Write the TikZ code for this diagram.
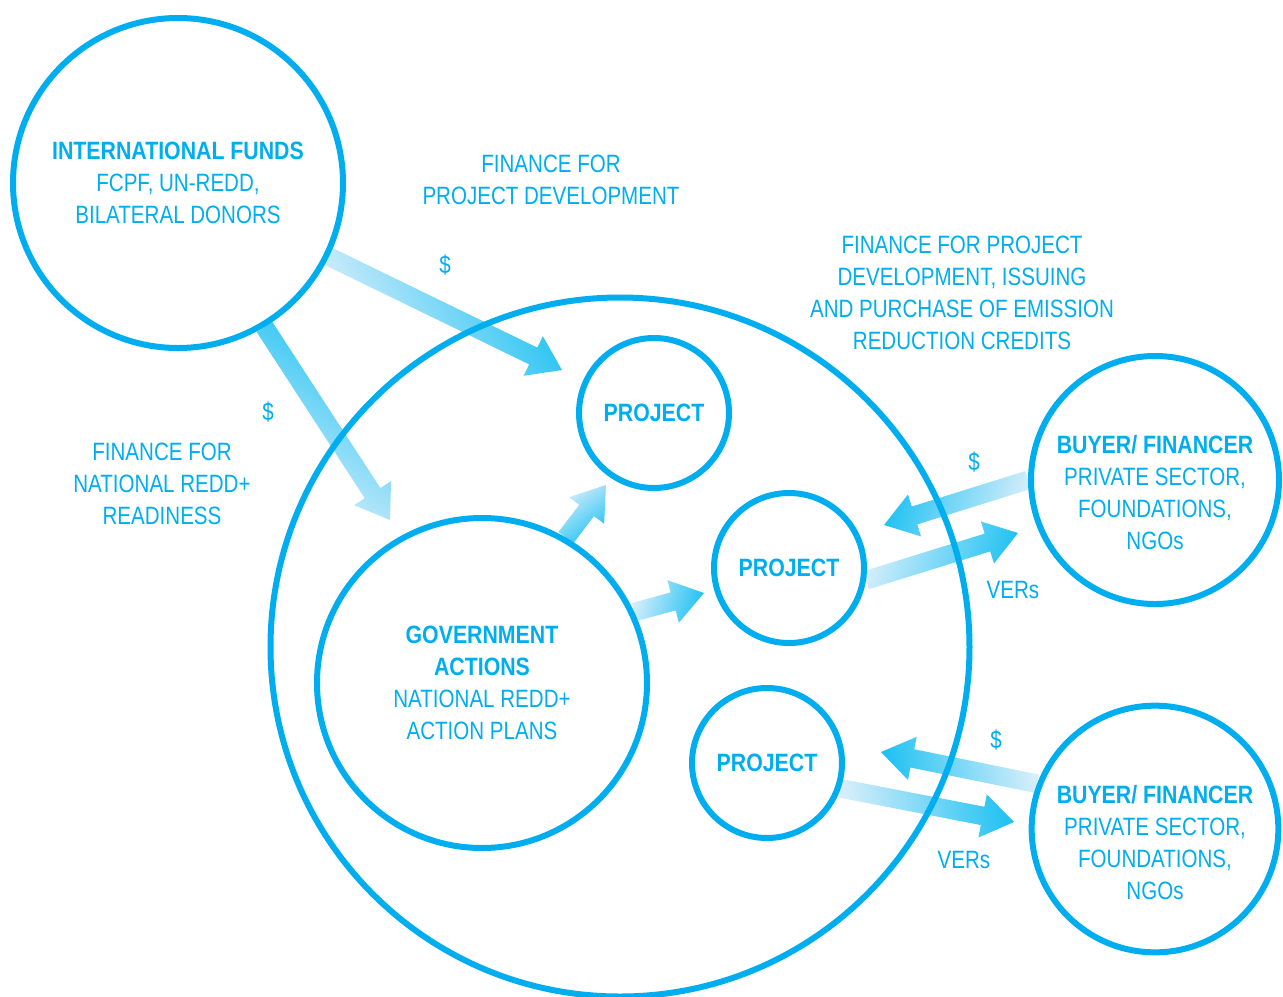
\documentclass[tikz,border=0pt]{standalone}
\usepackage{fontspec}
\setmainfont{Liberation Sans}[FakeStretch=0.82, BoldFeatures={FakeStretch=0.85}]
\usetikzlibrary{calc}
\definecolor{reddblue}{RGB}{0,174,239}
\definecolor{flowdeep}{RGB}{34,194,242}
\definecolor{flowlight}{RGB}{214,238,251}
\pgfdeclarelayer{background}
\pgfsetlayers{background,main}
\tikzset{
ring/.style={draw=reddblue, line width=4.5pt, circle, inner sep=0pt, text=reddblue, align=center, font=\fontsize{18.8}{24}\selectfont},
flowtext/.style={text=reddblue, align=center, inner sep=0pt, font=\fontsize{18.8}{24}\selectfont},
flowshade/.style={top color=flowdeep, bottom color=flowlight}
}
% shaded block arrow from #1 to the tip #2
\newcommand{\flowarrow}[2]{%
  \coordinate (fs) at (#1);
  \coordinate (ft) at (#2);
  \coordinate (fb) at ($(ft)!24pt!(fs)$);
  \pgfmathanglebetweenpoints{\pgfpointanchor{fs}{center}}{\pgfpointanchor{ft}{center}}%
  \let\flowtmp\pgfmathresult
  \pgfmathsetmacro\flowangle{\flowtmp-90}%
  \shade[flowshade, shading angle=\flowangle]
    ($(fs)!7pt!90:(ft)$) -- ($(fb)!7pt!90:(ft)$) -- ($(fb)!16.5pt!90:(ft)$)
    -- (ft) -- ($(fb)!16.5pt!-90:(ft)$) -- ($(fb)!7pt!-90:(ft)$)
    -- ($(fs)!7pt!-90:(ft)$) -- cycle;
}
\begin{document}
\begin{tikzpicture}[x=0.75pt,y=0.75pt,yscale=-1,xscale=1]
\useasboundingbox (0,0) rectangle (1283,997);

%Circles
\node [ring, minimum size=524.25pt] (country) at (620,647) {};
\node [ring, minimum size=247.5pt] (funds) at (178,183) {\textbf{INTERNATIONAL FUNDS}\\FCPF, UN-REDD,\\BILATERAL DONORS};
\node [ring, minimum size=247.5pt] (gov) at (482,683) {\textbf{GOVERNMENT}\\\textbf{ACTIONS}\\NATIONAL REDD+\\ACTION PLANS};
\node [ring, minimum size=112.5pt] (projA) at (654,413) {\textbf{PROJECT}};
\node [ring, minimum size=112.5pt] (projB) at (789,568) {\textbf{PROJECT}};
\node [ring, minimum size=112.5pt] (projC) at (767,763) {\textbf{PROJECT}};
\node [ring, minimum size=186pt] (buyerA) at (1155,480) {};
\node [ring, minimum size=185pt] (buyerB) at (1155,829) {};

% Text Node
\node [flowtext] (buyerAtext) at ([yshift=9.75pt]buyerA.center) {\textbf{BUYER/ FINANCER}\\PRIVATE SECTOR,\\FOUNDATIONS,\\NGOs};
% Text Node
\node [flowtext] (buyerBtext) at ([yshift=10.5pt]buyerB.center) {\textbf{BUYER/ FINANCER}\\PRIVATE SECTOR,\\FOUNDATIONS,\\NGOs};
% Text Node
\node [flowtext] (devfinance) at (551,180) {FINANCE FOR\\PROJECT DEVELOPMENT};
% Text Node
\node [flowtext] (readiness) at (162,484) {FINANCE FOR\\NATIONAL REDD+\\READINESS};
% Text Node
\node [flowtext] (purchase) at (962,293) {FINANCE FOR PROJECT\\DEVELOPMENT, ISSUING\\AND PURCHASE OF EMISSION\\REDUCTION CREDITS};
% Text Node
\node [flowtext] (dollarA) at (445,265) {\$};
\node [flowtext] (dollarB) at (268,412) {\$};
\node [flowtext] (dollarC) at (974,462) {\$};
\node [flowtext] (dollarD) at (996,740) {\$};
\node [flowtext] (versA) at (1013,590) {VERs};
\node [flowtext] (versB) at (964,860) {VERs};

%Arrow tips
\coordinate (tipA) at (562,370);
\coordinate (tipB) at (390,520);
\coordinate (tipC) at (606,485);
\coordinate (tipD) at (704,593);
\coordinate (tipE) at (884,525);
\coordinate (tipF) at (1018,533);
\coordinate (tipG) at (881,752);
\coordinate (tipH) at (1014,822);

%Block Arrows
\begin{pgfonlayer}{background}
\flowarrow{funds.-26}{tipA}
\flowarrow{funds.-59}{tipB}
\flowarrow{gov.60}{tipC}
\flowarrow{gov.25}{tipD}
\flowarrow{buyerA.180}{tipE}
\flowarrow{projB.-9}{tipF}
\flowarrow{buyerB.159}{tipG}
\flowarrow{projC.-19}{tipH}
\end{pgfonlayer}

\end{tikzpicture}
\end{document}
